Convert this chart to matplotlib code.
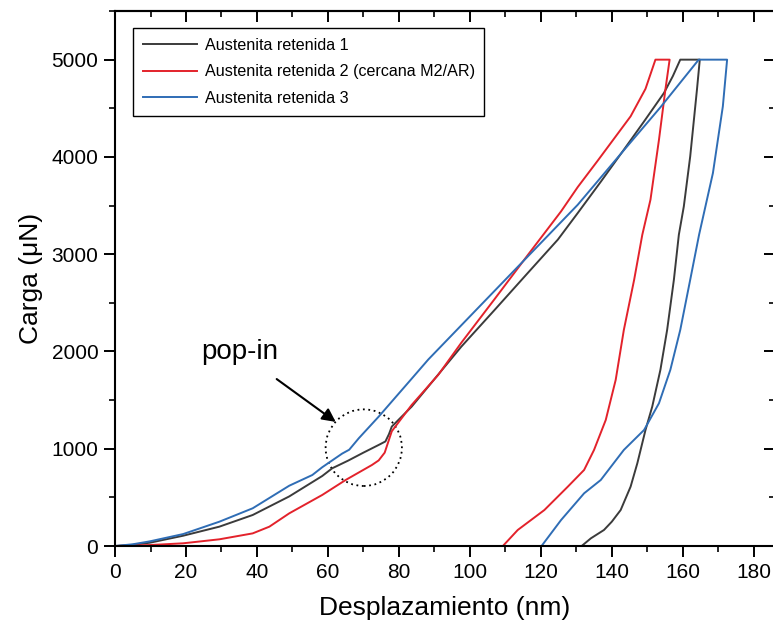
import matplotlib
matplotlib.use("Agg")
import matplotlib.pyplot as plt
from matplotlib.patches import Ellipse
from matplotlib.ticker import MultipleLocator

plt.rcParams['font.family'] = ['Liberation Sans', 'DejaVu Sans']

# ---- data (nm, uN) ----
labels = ["Austenita retenida 1",
          "Austenita retenida 2 (cercana M2/AR)",
          "Austenita retenida 3"]

# Austenita retenida 1 (black)
x1 = [0, 5, 9.8, 19.2, 29.4, 38.8, 49.1, 58.4, 61.2, 65.7, 70, 74.3, 76.2, 77.2, 78,
      83.6, 88.3, 97.6, 107, 116.3, 124.8, 130.4, 137, 143.4, 149, 154.7, 157.2, 159.3,
      164.8,
      164.0, 162.1, 160.3, 158.9, 157.5, 155.6, 153.7, 151.4, 149.5, 147.2, 145.3,
      142.5, 140, 137.8, 134.1, 131.5]
y1 = [0, 12, 34, 106, 199, 319, 510, 720, 799, 878, 960, 1039, 1075, 1150, 1228,
      1433, 1640, 2050, 2428, 2806, 3150, 3423, 3750, 4074, 4360, 4657, 4830, 5000,
      5000,
      4691, 4005, 3491, 3200, 2737, 2222, 1811, 1433, 1193, 851, 610,
      370, 250, 165, 79, 0]

# Austenita retenida 2 (red)
x2 = [0, 9.8, 19.2, 29.4, 38.8, 43.5, 49.1, 58.4, 65, 72.4, 74.3, 76, 78, 83.6,
      91.1, 97.6, 107, 116.3, 125.7, 130.4, 136, 145.3, 149.5, 152.3,
      156.3,
      155.1, 153.3, 150.9, 148.6, 146.3, 143.4, 141.1, 138.3, 135, 132.2, 127.6,
      121, 113.5, 109.3]
y2 = [0, 10, 28, 69, 130, 199, 336, 525, 679, 833, 880, 960, 1180, 1450,
      1760, 2090, 2540, 2990, 3440, 3690, 3960, 4417, 4700, 5000,
      5000,
      4691, 4177, 3560, 3200, 2737, 2222, 1708, 1296, 988, 782, 610,
      370, 165, 0]

# Austenita retenida 3 (blue)
x3 = [0, 5, 9.8, 19.2, 29.4, 38.8, 49.1, 55.6, 58.4, 64, 66, 68.7, 74.3, 83.6,
      88.3, 102.3, 111.7, 121, 130.4, 142.5, 153.7, 164.5,
      172.5,
      171.3, 168.5, 164.6, 162.1, 159.3, 156.5, 153.3, 149.1, 143.4, 136.9,
      132.2, 125.7, 120.2]
y3 = [0, 18, 48, 123, 250, 388, 620, 730, 810, 950, 990, 1108, 1330, 1720,
      1918, 2447, 2802, 3153, 3508, 4030, 4510, 5000,
      5000,
      4520, 3834, 3200, 2737, 2222, 1811, 1468, 1193, 988, 679,
      542, 267, 0]

xs = [x1, x2, x3]
ys = [y1, y2, y3]
colors = ['#3b3b3b', '#e3222b', '#2f6db5']

fig = plt.figure(figsize=(7.73, 6.33), dpi=100)
ax = fig.add_axes([0.1488, 0.1374, 0.8538, 0.8452])

for x, y, c, lab in zip(xs, ys, colors, labels):
    ax.plot(x, y, color=c, lw=1.4, label=lab)

ax.set_xlim(0, 186)
ax.set_ylim(0, 5500)
ax.xaxis.set_major_locator(MultipleLocator(20))
ax.xaxis.set_minor_locator(MultipleLocator(10))
ax.yaxis.set_major_locator(MultipleLocator(1000))
ax.yaxis.set_minor_locator(MultipleLocator(500))
ax.tick_params(axis='both', which='major', direction='out', length=8, width=1.4,
               labelsize=15, pad=4)
ax.tick_params(axis='both', which='minor', direction='out', length=4.5, width=1.2)
for s in ax.spines.values():
    s.set_linewidth(1.5)

# mirrored inward ticks on top and right
top = ax.secondary_xaxis('top')
top.xaxis.set_major_locator(MultipleLocator(20))
top.xaxis.set_minor_locator(MultipleLocator(10))
top.tick_params(which='major', direction='in', length=8, width=1.4, labeltop=False)
top.tick_params(which='minor', direction='in', length=4.5, width=1.2)
right = ax.secondary_yaxis('right')
right.yaxis.set_major_locator(MultipleLocator(1000))
right.yaxis.set_minor_locator(MultipleLocator(500))
right.tick_params(which='major', direction='in', length=8, width=1.4, labelright=False)
right.tick_params(which='minor', direction='in', length=4.5, width=1.2)
top.spines['top'].set_linewidth(1.5)
right.spines['right'].set_linewidth(1.5)

ax.set_xlabel('Desplazamiento (nm)', fontsize=19, labelpad=10)
ax.set_ylabel('Carga (\u03bcN)', fontsize=19, labelpad=6)

leg = ax.legend(loc='upper left', bbox_to_anchor=(0.027, 0.968), borderaxespad=0,
                fontsize=11.6, handlelength=3.4, handletextpad=0.45,
                labelspacing=0.72, fancybox=False, framealpha=1,
                edgecolor='black', borderpad=0.6)
leg.get_frame().set_linewidth(1.0)

# pop-in annotation
ax.add_patch(Ellipse((70.1, 1011), 21.5, 788, fill=False, ls=(0, (1, 2)),
                     lw=1.3, color='black'))
ax.annotate('pop-in', xy=(62.2, 1276), xytext=(35, 1996), fontsize=20,
            ha='center', va='center',
            arrowprops=dict(arrowstyle='-|>', color='black', lw=1.5,
                            mutation_scale=20, shrinkA=14, shrinkB=0))

fig.savefig('out.png', dpi=100)
